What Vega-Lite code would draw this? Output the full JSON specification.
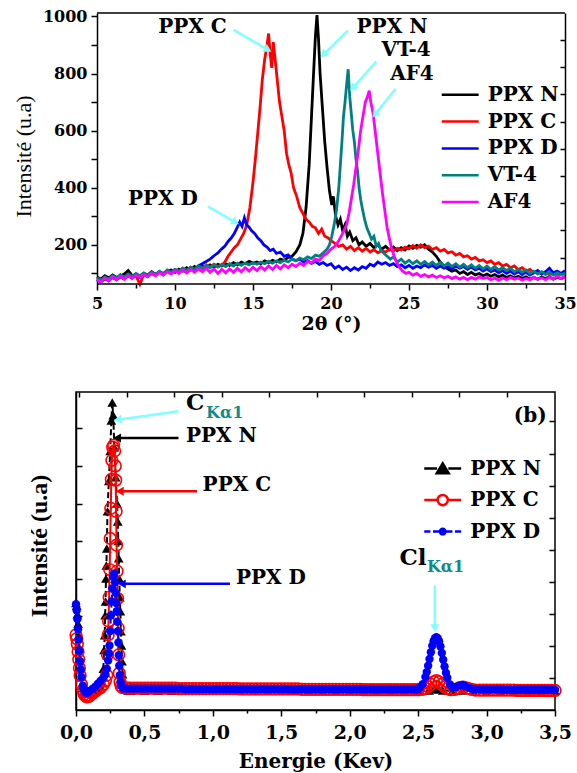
{
"$schema": "https://vega.github.io/schema/vega-lite/v6.json",
"padding": {"left": 12, "top": 8, "right": 0, "bottom": 0},
"background": "white",
"config": {
  "view": {"stroke": "#000000", "strokeWidth": 1.5},
  "axis": {"grid": false, "domainColor": "#000000", "domainWidth": 1.5, "tickColor": "#000000", "tickWidth": 1.5, "labelColor": "#000000", "titleColor": "#000000", "labelFlush": false, "labelOverlap": false},
  "legend": {"padding": 0}
},
"datasets": {
"xrd": [
{"s":"PPX N","x":5,"y":88},{"s":"PPX N","x":5.25,"y":80},{"s":"PPX N","x":5.5,"y":92},{"s":"PPX N","x":5.75,"y":84},{"s":"PPX N","x":6,"y":95},{"s":"PPX N","x":6.25,"y":86},{"s":"PPX N","x":6.5,"y":90},{"s":"PPX N","x":6.75,"y":98},{"s":"PPX N","x":7,"y":110},{"s":"PPX N","x":7.25,"y":92},{"s":"PPX N","x":7.5,"y":96},{"s":"PPX N","x":7.75,"y":88},{"s":"PPX N","x":8,"y":100},{"s":"PPX N","x":8.25,"y":94},{"s":"PPX N","x":8.5,"y":106},{"s":"PPX N","x":8.75,"y":97},{"s":"PPX N","x":9,"y":104},{"s":"PPX N","x":9.25,"y":96},{"s":"PPX N","x":9.5,"y":108},{"s":"PPX N","x":9.75,"y":112},{"s":"PPX N","x":10,"y":104},{"s":"PPX N","x":10.25,"y":115},{"s":"PPX N","x":10.5,"y":108},{"s":"PPX N","x":10.75,"y":120},{"s":"PPX N","x":11,"y":112},{"s":"PPX N","x":11.25,"y":124},{"s":"PPX N","x":11.5,"y":116},{"s":"PPX N","x":11.75,"y":126},{"s":"PPX N","x":12,"y":120},{"s":"PPX N","x":12.25,"y":130},{"s":"PPX N","x":12.5,"y":122},{"s":"PPX N","x":12.75,"y":132},{"s":"PPX N","x":13,"y":126},{"s":"PPX N","x":13.25,"y":134},{"s":"PPX N","x":13.5,"y":128},{"s":"PPX N","x":13.75,"y":138},{"s":"PPX N","x":14,"y":130},{"s":"PPX N","x":14.25,"y":140},{"s":"PPX N","x":14.5,"y":134},{"s":"PPX N","x":14.75,"y":142},{"s":"PPX N","x":15,"y":136},{"s":"PPX N","x":15.25,"y":140},{"s":"PPX N","x":15.5,"y":134},{"s":"PPX N","x":15.75,"y":144},{"s":"PPX N","x":16,"y":138},{"s":"PPX N","x":16.25,"y":146},{"s":"PPX N","x":16.5,"y":140},{"s":"PPX N","x":16.75,"y":150},{"s":"PPX N","x":17,"y":146},{"s":"PPX N","x":17.25,"y":156},{"s":"PPX N","x":17.5,"y":160},{"s":"PPX N","x":17.75,"y":175},{"s":"PPX N","x":18,"y":200},{"s":"PPX N","x":18.2,"y":240},{"s":"PPX N","x":18.4,"y":330},{"s":"PPX N","x":18.6,"y":480},{"s":"PPX N","x":18.75,"y":650},{"s":"PPX N","x":18.9,"y":820},{"s":"PPX N","x":19,"y":930},{"s":"PPX N","x":19.1,"y":1005},{"s":"PPX N","x":19.2,"y":920},{"s":"PPX N","x":19.3,"y":800},{"s":"PPX N","x":19.45,"y":680},{"s":"PPX N","x":19.6,"y":560},{"s":"PPX N","x":19.75,"y":470},{"s":"PPX N","x":19.9,"y":390},{"s":"PPX N","x":20.05,"y":340},{"s":"PPX N","x":20.15,"y":370},{"s":"PPX N","x":20.3,"y":300},{"s":"PPX N","x":20.45,"y":270},{"s":"PPX N","x":20.6,"y":290},{"s":"PPX N","x":20.75,"y":250},{"s":"PPX N","x":20.9,"y":270},{"s":"PPX N","x":21.05,"y":230},{"s":"PPX N","x":21.2,"y":245},{"s":"PPX N","x":21.4,"y":215},{"s":"PPX N","x":21.6,"y":225},{"s":"PPX N","x":21.8,"y":200},{"s":"PPX N","x":22,"y":210},{"s":"PPX N","x":22.25,"y":195},{"s":"PPX N","x":22.5,"y":205},{"s":"PPX N","x":22.75,"y":190},{"s":"PPX N","x":23,"y":200},{"s":"PPX N","x":23.25,"y":185},{"s":"PPX N","x":23.5,"y":195},{"s":"PPX N","x":23.75,"y":182},{"s":"PPX N","x":24,"y":192},{"s":"PPX N","x":24.25,"y":180},{"s":"PPX N","x":24.5,"y":190},{"s":"PPX N","x":24.75,"y":182},{"s":"PPX N","x":25,"y":196},{"s":"PPX N","x":25.25,"y":188},{"s":"PPX N","x":25.5,"y":198},{"s":"PPX N","x":25.75,"y":192},{"s":"PPX N","x":26,"y":200},{"s":"PPX N","x":26.25,"y":185},{"s":"PPX N","x":26.5,"y":175},{"s":"PPX N","x":26.75,"y":160},{"s":"PPX N","x":27,"y":140},{"s":"PPX N","x":27.25,"y":125},{"s":"PPX N","x":27.5,"y":115},{"s":"PPX N","x":27.75,"y":108},{"s":"PPX N","x":28,"y":112},{"s":"PPX N","x":28.25,"y":100},{"s":"PPX N","x":28.5,"y":106},{"s":"PPX N","x":28.75,"y":96},{"s":"PPX N","x":29,"y":104},{"s":"PPX N","x":29.25,"y":95},{"s":"PPX N","x":29.5,"y":100},{"s":"PPX N","x":29.75,"y":92},{"s":"PPX N","x":30,"y":98},{"s":"PPX N","x":30.25,"y":90},{"s":"PPX N","x":30.5,"y":96},{"s":"PPX N","x":30.75,"y":88},{"s":"PPX N","x":31,"y":94},{"s":"PPX N","x":31.25,"y":86},{"s":"PPX N","x":31.5,"y":92},{"s":"PPX N","x":31.75,"y":84},{"s":"PPX N","x":32,"y":90},{"s":"PPX N","x":32.25,"y":83},{"s":"PPX N","x":32.5,"y":88},{"s":"PPX N","x":32.75,"y":80},{"s":"PPX N","x":33,"y":86},{"s":"PPX N","x":33.25,"y":80},{"s":"PPX N","x":33.5,"y":87},{"s":"PPX N","x":33.75,"y":82},{"s":"PPX N","x":34,"y":88},{"s":"PPX N","x":34.25,"y":80},{"s":"PPX N","x":34.5,"y":86},{"s":"PPX N","x":34.75,"y":82},{"s":"PPX N","x":35,"y":88},
{"s":"PPX C","x":5,"y":80},{"s":"PPX C","x":5.25,"y":72},{"s":"PPX C","x":5.5,"y":84},{"s":"PPX C","x":5.75,"y":76},{"s":"PPX C","x":6,"y":88},{"s":"PPX C","x":6.25,"y":80},{"s":"PPX C","x":6.5,"y":90},{"s":"PPX C","x":6.75,"y":84},{"s":"PPX C","x":7,"y":95},{"s":"PPX C","x":7.25,"y":86},{"s":"PPX C","x":7.5,"y":92},{"s":"PPX C","x":7.75,"y":62},{"s":"PPX C","x":8,"y":96},{"s":"PPX C","x":8.25,"y":90},{"s":"PPX C","x":8.5,"y":100},{"s":"PPX C","x":8.75,"y":94},{"s":"PPX C","x":9,"y":104},{"s":"PPX C","x":9.25,"y":98},{"s":"PPX C","x":9.5,"y":108},{"s":"PPX C","x":9.75,"y":102},{"s":"PPX C","x":10,"y":112},{"s":"PPX C","x":10.25,"y":106},{"s":"PPX C","x":10.5,"y":118},{"s":"PPX C","x":10.75,"y":110},{"s":"PPX C","x":11,"y":122},{"s":"PPX C","x":11.25,"y":114},{"s":"PPX C","x":11.5,"y":126},{"s":"PPX C","x":11.75,"y":118},{"s":"PPX C","x":12,"y":130},{"s":"PPX C","x":12.25,"y":122},{"s":"PPX C","x":12.5,"y":132},{"s":"PPX C","x":12.75,"y":124},{"s":"PPX C","x":13,"y":128},{"s":"PPX C","x":13.2,"y":140},{"s":"PPX C","x":13.4,"y":160},{"s":"PPX C","x":13.6,"y":175},{"s":"PPX C","x":13.8,"y":190},{"s":"PPX C","x":14,"y":200},{"s":"PPX C","x":14.2,"y":220},{"s":"PPX C","x":14.4,"y":240},{"s":"PPX C","x":14.6,"y":270},{"s":"PPX C","x":14.8,"y":330},{"s":"PPX C","x":15,"y":420},{"s":"PPX C","x":15.15,"y":500},{"s":"PPX C","x":15.3,"y":590},{"s":"PPX C","x":15.45,"y":680},{"s":"PPX C","x":15.6,"y":780},{"s":"PPX C","x":15.75,"y":850},{"s":"PPX C","x":15.9,"y":900},{"s":"PPX C","x":16,"y":940},{"s":"PPX C","x":16.1,"y":870},{"s":"PPX C","x":16.2,"y":820},{"s":"PPX C","x":16.3,"y":910},{"s":"PPX C","x":16.4,"y":860},{"s":"PPX C","x":16.55,"y":780},{"s":"PPX C","x":16.7,"y":700},{"s":"PPX C","x":16.85,"y":650},{"s":"PPX C","x":17,"y":600},{"s":"PPX C","x":17.15,"y":520},{"s":"PPX C","x":17.3,"y":480},{"s":"PPX C","x":17.45,"y":450},{"s":"PPX C","x":17.6,"y":400},{"s":"PPX C","x":17.8,"y":370},{"s":"PPX C","x":18,"y":330},{"s":"PPX C","x":18.2,"y":310},{"s":"PPX C","x":18.4,"y":290},{"s":"PPX C","x":18.6,"y":280},{"s":"PPX C","x":18.8,"y":265},{"s":"PPX C","x":19,"y":260},{"s":"PPX C","x":19.2,"y":240},{"s":"PPX C","x":19.4,"y":255},{"s":"PPX C","x":19.6,"y":230},{"s":"PPX C","x":19.8,"y":225},{"s":"PPX C","x":20,"y":215},{"s":"PPX C","x":20.25,"y":205},{"s":"PPX C","x":20.5,"y":195},{"s":"PPX C","x":20.75,"y":200},{"s":"PPX C","x":21,"y":185},{"s":"PPX C","x":21.25,"y":195},{"s":"PPX C","x":21.5,"y":180},{"s":"PPX C","x":21.75,"y":190},{"s":"PPX C","x":22,"y":178},{"s":"PPX C","x":22.25,"y":188},{"s":"PPX C","x":22.5,"y":175},{"s":"PPX C","x":22.75,"y":183},{"s":"PPX C","x":23,"y":172},{"s":"PPX C","x":23.25,"y":180},{"s":"PPX C","x":23.5,"y":175},{"s":"PPX C","x":23.75,"y":185},{"s":"PPX C","x":24,"y":178},{"s":"PPX C","x":24.25,"y":188},{"s":"PPX C","x":24.5,"y":182},{"s":"PPX C","x":24.75,"y":192},{"s":"PPX C","x":25,"y":186},{"s":"PPX C","x":25.25,"y":198},{"s":"PPX C","x":25.5,"y":188},{"s":"PPX C","x":25.75,"y":200},{"s":"PPX C","x":26,"y":190},{"s":"PPX C","x":26.25,"y":196},{"s":"PPX C","x":26.5,"y":184},{"s":"PPX C","x":26.75,"y":190},{"s":"PPX C","x":27,"y":178},{"s":"PPX C","x":27.25,"y":184},{"s":"PPX C","x":27.5,"y":172},{"s":"PPX C","x":27.75,"y":176},{"s":"PPX C","x":28,"y":164},{"s":"PPX C","x":28.25,"y":170},{"s":"PPX C","x":28.5,"y":158},{"s":"PPX C","x":28.75,"y":162},{"s":"PPX C","x":29,"y":150},{"s":"PPX C","x":29.25,"y":156},{"s":"PPX C","x":29.5,"y":144},{"s":"PPX C","x":29.75,"y":148},{"s":"PPX C","x":30,"y":138},{"s":"PPX C","x":30.25,"y":144},{"s":"PPX C","x":30.5,"y":132},{"s":"PPX C","x":30.75,"y":138},{"s":"PPX C","x":31,"y":126},{"s":"PPX C","x":31.25,"y":132},{"s":"PPX C","x":31.5,"y":120},{"s":"PPX C","x":31.75,"y":126},{"s":"PPX C","x":32,"y":114},{"s":"PPX C","x":32.25,"y":120},{"s":"PPX C","x":32.5,"y":108},{"s":"PPX C","x":32.75,"y":114},{"s":"PPX C","x":33,"y":102},{"s":"PPX C","x":33.25,"y":108},{"s":"PPX C","x":33.5,"y":98},{"s":"PPX C","x":33.75,"y":104},{"s":"PPX C","x":34,"y":96},{"s":"PPX C","x":34.25,"y":102},{"s":"PPX C","x":34.5,"y":94},{"s":"PPX C","x":34.75,"y":100},{"s":"PPX C","x":35,"y":96},
{"s":"PPX D","x":5,"y":78},{"s":"PPX D","x":5.25,"y":70},{"s":"PPX D","x":5.5,"y":82},{"s":"PPX D","x":5.75,"y":74},{"s":"PPX D","x":6,"y":86},{"s":"PPX D","x":6.25,"y":78},{"s":"PPX D","x":6.5,"y":88},{"s":"PPX D","x":6.75,"y":80},{"s":"PPX D","x":7,"y":92},{"s":"PPX D","x":7.25,"y":84},{"s":"PPX D","x":7.5,"y":94},{"s":"PPX D","x":7.75,"y":86},{"s":"PPX D","x":8,"y":98},{"s":"PPX D","x":8.25,"y":90},{"s":"PPX D","x":8.5,"y":102},{"s":"PPX D","x":8.75,"y":94},{"s":"PPX D","x":9,"y":106},{"s":"PPX D","x":9.25,"y":98},{"s":"PPX D","x":9.5,"y":110},{"s":"PPX D","x":9.75,"y":102},{"s":"PPX D","x":10,"y":114},{"s":"PPX D","x":10.25,"y":106},{"s":"PPX D","x":10.5,"y":116},{"s":"PPX D","x":10.75,"y":110},{"s":"PPX D","x":11,"y":120},{"s":"PPX D","x":11.25,"y":114},{"s":"PPX D","x":11.5,"y":126},{"s":"PPX D","x":11.75,"y":134},{"s":"PPX D","x":12,"y":142},{"s":"PPX D","x":12.25,"y":150},{"s":"PPX D","x":12.5,"y":162},{"s":"PPX D","x":12.75,"y":172},{"s":"PPX D","x":13,"y":186},{"s":"PPX D","x":13.2,"y":196},{"s":"PPX D","x":13.4,"y":212},{"s":"PPX D","x":13.6,"y":224},{"s":"PPX D","x":13.8,"y":240},{"s":"PPX D","x":14,"y":262},{"s":"PPX D","x":14.15,"y":280},{"s":"PPX D","x":14.3,"y":265},{"s":"PPX D","x":14.45,"y":295},{"s":"PPX D","x":14.6,"y":270},{"s":"PPX D","x":14.75,"y":262},{"s":"PPX D","x":14.9,"y":250},{"s":"PPX D","x":15.1,"y":240},{"s":"PPX D","x":15.3,"y":225},{"s":"PPX D","x":15.5,"y":215},{"s":"PPX D","x":15.7,"y":200},{"s":"PPX D","x":15.9,"y":192},{"s":"PPX D","x":16.1,"y":180},{"s":"PPX D","x":16.3,"y":185},{"s":"PPX D","x":16.5,"y":170},{"s":"PPX D","x":16.75,"y":175},{"s":"PPX D","x":17,"y":160},{"s":"PPX D","x":17.25,"y":165},{"s":"PPX D","x":17.5,"y":150},{"s":"PPX D","x":17.75,"y":145},{"s":"PPX D","x":18,"y":150},{"s":"PPX D","x":18.25,"y":140},{"s":"PPX D","x":18.5,"y":145},{"s":"PPX D","x":18.75,"y":135},{"s":"PPX D","x":19,"y":142},{"s":"PPX D","x":19.25,"y":132},{"s":"PPX D","x":19.5,"y":138},{"s":"PPX D","x":19.75,"y":128},{"s":"PPX D","x":20,"y":134},{"s":"PPX D","x":20.25,"y":118},{"s":"PPX D","x":20.5,"y":126},{"s":"PPX D","x":20.75,"y":114},{"s":"PPX D","x":21,"y":122},{"s":"PPX D","x":21.25,"y":110},{"s":"PPX D","x":21.5,"y":120},{"s":"PPX D","x":21.75,"y":112},{"s":"PPX D","x":22,"y":124},{"s":"PPX D","x":22.25,"y":118},{"s":"PPX D","x":22.5,"y":132},{"s":"PPX D","x":22.75,"y":126},{"s":"PPX D","x":23,"y":140},{"s":"PPX D","x":23.25,"y":132},{"s":"PPX D","x":23.5,"y":138},{"s":"PPX D","x":23.75,"y":128},{"s":"PPX D","x":24,"y":134},{"s":"PPX D","x":24.25,"y":124},{"s":"PPX D","x":24.5,"y":130},{"s":"PPX D","x":24.75,"y":120},{"s":"PPX D","x":25,"y":128},{"s":"PPX D","x":25.25,"y":118},{"s":"PPX D","x":25.5,"y":126},{"s":"PPX D","x":25.75,"y":120},{"s":"PPX D","x":26,"y":130},{"s":"PPX D","x":26.25,"y":122},{"s":"PPX D","x":26.5,"y":128},{"s":"PPX D","x":26.75,"y":118},{"s":"PPX D","x":27,"y":126},{"s":"PPX D","x":27.25,"y":118},{"s":"PPX D","x":27.5,"y":124},{"s":"PPX D","x":27.75,"y":116},{"s":"PPX D","x":28,"y":126},{"s":"PPX D","x":28.25,"y":118},{"s":"PPX D","x":28.5,"y":124},{"s":"PPX D","x":28.75,"y":114},{"s":"PPX D","x":29,"y":122},{"s":"PPX D","x":29.25,"y":112},{"s":"PPX D","x":29.5,"y":118},{"s":"PPX D","x":29.75,"y":108},{"s":"PPX D","x":30,"y":116},{"s":"PPX D","x":30.25,"y":106},{"s":"PPX D","x":30.5,"y":112},{"s":"PPX D","x":30.75,"y":102},{"s":"PPX D","x":31,"y":110},{"s":"PPX D","x":31.25,"y":100},{"s":"PPX D","x":31.5,"y":108},{"s":"PPX D","x":31.75,"y":98},{"s":"PPX D","x":32,"y":106},{"s":"PPX D","x":32.25,"y":96},{"s":"PPX D","x":32.5,"y":104},{"s":"PPX D","x":32.75,"y":94},{"s":"PPX D","x":33,"y":102},{"s":"PPX D","x":33.25,"y":110},{"s":"PPX D","x":33.5,"y":98},{"s":"PPX D","x":33.75,"y":106},{"s":"PPX D","x":34,"y":118},{"s":"PPX D","x":34.25,"y":102},{"s":"PPX D","x":34.5,"y":108},{"s":"PPX D","x":34.75,"y":100},{"s":"PPX D","x":35,"y":110},
{"s":"VT-4","x":5,"y":85},{"s":"VT-4","x":5.25,"y":76},{"s":"VT-4","x":5.5,"y":88},{"s":"VT-4","x":5.75,"y":80},{"s":"VT-4","x":6,"y":92},{"s":"VT-4","x":6.25,"y":84},{"s":"VT-4","x":6.5,"y":96},{"s":"VT-4","x":6.75,"y":86},{"s":"VT-4","x":7,"y":98},{"s":"VT-4","x":7.25,"y":90},{"s":"VT-4","x":7.5,"y":100},{"s":"VT-4","x":7.75,"y":92},{"s":"VT-4","x":8,"y":102},{"s":"VT-4","x":8.25,"y":94},{"s":"VT-4","x":8.5,"y":104},{"s":"VT-4","x":8.75,"y":96},{"s":"VT-4","x":9,"y":108},{"s":"VT-4","x":9.25,"y":100},{"s":"VT-4","x":9.5,"y":112},{"s":"VT-4","x":9.75,"y":104},{"s":"VT-4","x":10,"y":114},{"s":"VT-4","x":10.25,"y":108},{"s":"VT-4","x":10.5,"y":118},{"s":"VT-4","x":10.75,"y":110},{"s":"VT-4","x":11,"y":122},{"s":"VT-4","x":11.25,"y":114},{"s":"VT-4","x":11.5,"y":126},{"s":"VT-4","x":11.75,"y":118},{"s":"VT-4","x":12,"y":128},{"s":"VT-4","x":12.25,"y":120},{"s":"VT-4","x":12.5,"y":130},{"s":"VT-4","x":12.75,"y":122},{"s":"VT-4","x":13,"y":132},{"s":"VT-4","x":13.25,"y":124},{"s":"VT-4","x":13.5,"y":134},{"s":"VT-4","x":13.75,"y":126},{"s":"VT-4","x":14,"y":136},{"s":"VT-4","x":14.25,"y":128},{"s":"VT-4","x":14.5,"y":136},{"s":"VT-4","x":14.75,"y":130},{"s":"VT-4","x":15,"y":138},{"s":"VT-4","x":15.25,"y":132},{"s":"VT-4","x":15.5,"y":140},{"s":"VT-4","x":15.75,"y":134},{"s":"VT-4","x":16,"y":142},{"s":"VT-4","x":16.25,"y":136},{"s":"VT-4","x":16.5,"y":144},{"s":"VT-4","x":16.75,"y":138},{"s":"VT-4","x":17,"y":146},{"s":"VT-4","x":17.25,"y":140},{"s":"VT-4","x":17.5,"y":150},{"s":"VT-4","x":17.75,"y":144},{"s":"VT-4","x":18,"y":154},{"s":"VT-4","x":18.25,"y":148},{"s":"VT-4","x":18.5,"y":158},{"s":"VT-4","x":18.75,"y":152},{"s":"VT-4","x":19,"y":164},{"s":"VT-4","x":19.25,"y":160},{"s":"VT-4","x":19.5,"y":172},{"s":"VT-4","x":19.75,"y":185},{"s":"VT-4","x":19.9,"y":200},{"s":"VT-4","x":20.05,"y":230},{"s":"VT-4","x":20.2,"y":270},{"s":"VT-4","x":20.35,"y":320},{"s":"VT-4","x":20.5,"y":400},{"s":"VT-4","x":20.6,"y":480},{"s":"VT-4","x":20.7,"y":560},{"s":"VT-4","x":20.8,"y":650},{"s":"VT-4","x":20.9,"y":700},{"s":"VT-4","x":21,"y":760},{"s":"VT-4","x":21.1,"y":815},{"s":"VT-4","x":21.2,"y":720},{"s":"VT-4","x":21.3,"y":660},{"s":"VT-4","x":21.4,"y":600},{"s":"VT-4","x":21.5,"y":560},{"s":"VT-4","x":21.6,"y":500},{"s":"VT-4","x":21.7,"y":460},{"s":"VT-4","x":21.8,"y":400},{"s":"VT-4","x":21.9,"y":360},{"s":"VT-4","x":22,"y":330},{"s":"VT-4","x":22.15,"y":290},{"s":"VT-4","x":22.3,"y":260},{"s":"VT-4","x":22.45,"y":240},{"s":"VT-4","x":22.6,"y":220},{"s":"VT-4","x":22.75,"y":230},{"s":"VT-4","x":22.9,"y":195},{"s":"VT-4","x":23.05,"y":205},{"s":"VT-4","x":23.2,"y":180},{"s":"VT-4","x":23.4,"y":170},{"s":"VT-4","x":23.6,"y":160},{"s":"VT-4","x":23.8,"y":150},{"s":"VT-4","x":24,"y":158},{"s":"VT-4","x":24.25,"y":140},{"s":"VT-4","x":24.5,"y":150},{"s":"VT-4","x":24.75,"y":136},{"s":"VT-4","x":25,"y":146},{"s":"VT-4","x":25.25,"y":134},{"s":"VT-4","x":25.5,"y":144},{"s":"VT-4","x":25.75,"y":132},{"s":"VT-4","x":26,"y":142},{"s":"VT-4","x":26.25,"y":130},{"s":"VT-4","x":26.5,"y":140},{"s":"VT-4","x":26.75,"y":128},{"s":"VT-4","x":27,"y":138},{"s":"VT-4","x":27.25,"y":126},{"s":"VT-4","x":27.5,"y":136},{"s":"VT-4","x":27.75,"y":124},{"s":"VT-4","x":28,"y":134},{"s":"VT-4","x":28.25,"y":122},{"s":"VT-4","x":28.5,"y":132},{"s":"VT-4","x":28.75,"y":120},{"s":"VT-4","x":29,"y":130},{"s":"VT-4","x":29.25,"y":118},{"s":"VT-4","x":29.5,"y":128},{"s":"VT-4","x":29.75,"y":116},{"s":"VT-4","x":30,"y":126},{"s":"VT-4","x":30.25,"y":114},{"s":"VT-4","x":30.5,"y":124},{"s":"VT-4","x":30.75,"y":112},{"s":"VT-4","x":31,"y":120},{"s":"VT-4","x":31.25,"y":110},{"s":"VT-4","x":31.5,"y":118},{"s":"VT-4","x":31.75,"y":106},{"s":"VT-4","x":32,"y":114},{"s":"VT-4","x":32.25,"y":104},{"s":"VT-4","x":32.5,"y":112},{"s":"VT-4","x":32.75,"y":100},{"s":"VT-4","x":33,"y":108},{"s":"VT-4","x":33.25,"y":98},{"s":"VT-4","x":33.5,"y":106},{"s":"VT-4","x":33.75,"y":96},{"s":"VT-4","x":34,"y":104},{"s":"VT-4","x":34.25,"y":94},{"s":"VT-4","x":34.5,"y":102},{"s":"VT-4","x":34.75,"y":96},{"s":"VT-4","x":35,"y":100},
{"s":"AF4","x":5,"y":78},{"s":"AF4","x":5.25,"y":70},{"s":"AF4","x":5.5,"y":84},{"s":"AF4","x":5.75,"y":74},{"s":"AF4","x":6,"y":88},{"s":"AF4","x":6.25,"y":78},{"s":"AF4","x":6.5,"y":90},{"s":"AF4","x":6.75,"y":80},{"s":"AF4","x":7,"y":92},{"s":"AF4","x":7.25,"y":82},{"s":"AF4","x":7.5,"y":94},{"s":"AF4","x":7.75,"y":86},{"s":"AF4","x":8,"y":96},{"s":"AF4","x":8.25,"y":88},{"s":"AF4","x":8.5,"y":100},{"s":"AF4","x":8.75,"y":92},{"s":"AF4","x":9,"y":104},{"s":"AF4","x":9.25,"y":94},{"s":"AF4","x":9.5,"y":106},{"s":"AF4","x":9.75,"y":98},{"s":"AF4","x":10,"y":110},{"s":"AF4","x":10.25,"y":100},{"s":"AF4","x":10.5,"y":112},{"s":"AF4","x":10.75,"y":102},{"s":"AF4","x":11,"y":114},{"s":"AF4","x":11.25,"y":104},{"s":"AF4","x":11.5,"y":116},{"s":"AF4","x":11.75,"y":106},{"s":"AF4","x":12,"y":118},{"s":"AF4","x":12.25,"y":104},{"s":"AF4","x":12.5,"y":116},{"s":"AF4","x":12.75,"y":100},{"s":"AF4","x":13,"y":114},{"s":"AF4","x":13.25,"y":102},{"s":"AF4","x":13.5,"y":116},{"s":"AF4","x":13.75,"y":104},{"s":"AF4","x":14,"y":118},{"s":"AF4","x":14.25,"y":106},{"s":"AF4","x":14.5,"y":120},{"s":"AF4","x":14.75,"y":108},{"s":"AF4","x":15,"y":122},{"s":"AF4","x":15.25,"y":110},{"s":"AF4","x":15.5,"y":124},{"s":"AF4","x":15.75,"y":112},{"s":"AF4","x":16,"y":126},{"s":"AF4","x":16.25,"y":114},{"s":"AF4","x":16.5,"y":128},{"s":"AF4","x":16.75,"y":116},{"s":"AF4","x":17,"y":130},{"s":"AF4","x":17.25,"y":120},{"s":"AF4","x":17.5,"y":132},{"s":"AF4","x":17.75,"y":124},{"s":"AF4","x":18,"y":136},{"s":"AF4","x":18.25,"y":128},{"s":"AF4","x":18.5,"y":142},{"s":"AF4","x":18.75,"y":136},{"s":"AF4","x":19,"y":150},{"s":"AF4","x":19.25,"y":146},{"s":"AF4","x":19.5,"y":162},{"s":"AF4","x":19.75,"y":170},{"s":"AF4","x":20,"y":185},{"s":"AF4","x":20.25,"y":195},{"s":"AF4","x":20.5,"y":215},{"s":"AF4","x":20.75,"y":240},{"s":"AF4","x":21,"y":270},{"s":"AF4","x":21.15,"y":310},{"s":"AF4","x":21.3,"y":360},{"s":"AF4","x":21.45,"y":410},{"s":"AF4","x":21.6,"y":470},{"s":"AF4","x":21.75,"y":530},{"s":"AF4","x":21.9,"y":600},{"s":"AF4","x":22.05,"y":650},{"s":"AF4","x":22.2,"y":700},{"s":"AF4","x":22.35,"y":720},{"s":"AF4","x":22.45,"y":740},{"s":"AF4","x":22.55,"y":700},{"s":"AF4","x":22.7,"y":660},{"s":"AF4","x":22.85,"y":590},{"s":"AF4","x":23,"y":520},{"s":"AF4","x":23.15,"y":450},{"s":"AF4","x":23.3,"y":380},{"s":"AF4","x":23.45,"y":320},{"s":"AF4","x":23.6,"y":260},{"s":"AF4","x":23.75,"y":220},{"s":"AF4","x":23.9,"y":185},{"s":"AF4","x":24.05,"y":160},{"s":"AF4","x":24.2,"y":140},{"s":"AF4","x":24.4,"y":120},{"s":"AF4","x":24.6,"y":108},{"s":"AF4","x":24.8,"y":100},{"s":"AF4","x":25,"y":104},{"s":"AF4","x":25.25,"y":94},{"s":"AF4","x":25.5,"y":100},{"s":"AF4","x":25.75,"y":90},{"s":"AF4","x":26,"y":96},{"s":"AF4","x":26.25,"y":88},{"s":"AF4","x":26.5,"y":94},{"s":"AF4","x":26.75,"y":86},{"s":"AF4","x":27,"y":92},{"s":"AF4","x":27.25,"y":85},{"s":"AF4","x":27.5,"y":90},{"s":"AF4","x":27.75,"y":82},{"s":"AF4","x":28,"y":88},{"s":"AF4","x":28.25,"y":80},{"s":"AF4","x":28.5,"y":86},{"s":"AF4","x":28.75,"y":78},{"s":"AF4","x":29,"y":86},{"s":"AF4","x":29.25,"y":80},{"s":"AF4","x":29.5,"y":88},{"s":"AF4","x":29.75,"y":82},{"s":"AF4","x":30,"y":86},{"s":"AF4","x":30.25,"y":78},{"s":"AF4","x":30.5,"y":84},{"s":"AF4","x":30.75,"y":76},{"s":"AF4","x":31,"y":84},{"s":"AF4","x":31.25,"y":78},{"s":"AF4","x":31.5,"y":86},{"s":"AF4","x":31.75,"y":80},{"s":"AF4","x":32,"y":84},{"s":"AF4","x":32.25,"y":76},{"s":"AF4","x":32.5,"y":82},{"s":"AF4","x":32.75,"y":78},{"s":"AF4","x":33,"y":86},{"s":"AF4","x":33.25,"y":80},{"s":"AF4","x":33.5,"y":84},{"s":"AF4","x":33.75,"y":78},{"s":"AF4","x":34,"y":86},{"s":"AF4","x":34.25,"y":80},{"s":"AF4","x":34.5,"y":90},{"s":"AF4","x":34.75,"y":82},{"s":"AF4","x":35,"y":88}
],
"xrdLab": [
{"t":"PPX C","x":11.12,"y":962},{"t":"PPX N","x":23.91,"y":962},{"t":"VT-4","x":24.81,"y":881},{"t":"AF4","x":25.19,"y":797},{"t":"PPX D","x":9.23,"y":359}
],
"xrdArr": [
{"x":13.77,"y":953,"x2":15.96,"y2":883,"a":120},{"x":21.09,"y":951,"x2":19.51,"y2":866,"a":225},{"x":22.9,"y":842,"x2":21.39,"y2":749,"a":221},{"x":24.15,"y":747,"x2":22.81,"y2":657,"a":219},{"x":12.12,"y":334,"x2":13.88,"y2":279,"a":120}
],
"edx": [
{"s":"PPX N","x":0,"y":235},{"s":"PPX N","x":0.005,"y":228},{"s":"PPX N","x":0.01,"y":205},{"s":"PPX N","x":0.015,"y":180},{"s":"PPX N","x":0.02,"y":150},{"s":"PPX N","x":0.025,"y":115},{"s":"PPX N","x":0.03,"y":80},{"s":"PPX N","x":0.04,"y":40},{"s":"PPX N","x":0.05,"y":15},{"s":"PPX N","x":0.06,"y":2},{"s":"PPX N","x":0.07,"y":-4},{"s":"PPX N","x":0.08,"y":-6},{"s":"PPX N","x":0.1,"y":-6},{"s":"PPX N","x":0.12,"y":-4},{"s":"PPX N","x":0.14,"y":0},{"s":"PPX N","x":0.16,"y":5},{"s":"PPX N","x":0.18,"y":12},{"s":"PPX N","x":0.19,"y":22},{"s":"PPX N","x":0.2,"y":60},{"s":"PPX N","x":0.205,"y":110},{"s":"PPX N","x":0.21,"y":149},{"s":"PPX N","x":0.213,"y":202},{"s":"PPX N","x":0.216,"y":239},{"s":"PPX N","x":0.219,"y":300},{"s":"PPX N","x":0.222,"y":335},{"s":"PPX N","x":0.225,"y":380},{"s":"PPX N","x":0.23,"y":479},{"s":"PPX N","x":0.24,"y":560},{"s":"PPX N","x":0.25,"y":640},{"s":"PPX N","x":0.258,"y":721},{"s":"PPX N","x":0.265,"y":769},{"s":"PPX N","x":0.272,"y":735},{"s":"PPX N","x":0.28,"y":650},{"s":"PPX N","x":0.29,"y":570},{"s":"PPX N","x":0.3,"y":500},{"s":"PPX N","x":0.305,"y":452},{"s":"PPX N","x":0.309,"y":400},{"s":"PPX N","x":0.312,"y":354},{"s":"PPX N","x":0.316,"y":300},{"s":"PPX N","x":0.32,"y":250},{"s":"PPX N","x":0.324,"y":213},{"s":"PPX N","x":0.328,"y":160},{"s":"PPX N","x":0.332,"y":122},{"s":"PPX N","x":0.336,"y":80},{"s":"PPX N","x":0.34,"y":45},{"s":"PPX N","x":0.345,"y":22},{"s":"PPX N","x":0.35,"y":10},{"s":"PPX N","x":0.36,"y":5},{"s":"PPX N","x":0.38,"y":2},{"s":"PPX N","x":0.4,"y":1},{"s":"PPX N","x":0.5,"y":1},{"s":"PPX N","x":0.6,"y":1},{"s":"PPX N","x":0.7,"y":1},{"s":"PPX N","x":0.8,"y":1},{"s":"PPX N","x":0.9,"y":1},{"s":"PPX N","x":1,"y":1},{"s":"PPX N","x":1.1,"y":1},{"s":"PPX N","x":1.2,"y":1},{"s":"PPX N","x":1.3,"y":1},{"s":"PPX N","x":1.4,"y":1},{"s":"PPX N","x":1.5,"y":1},{"s":"PPX N","x":1.6,"y":1},{"s":"PPX N","x":1.7,"y":1},{"s":"PPX N","x":1.8,"y":1},{"s":"PPX N","x":1.9,"y":1},{"s":"PPX N","x":2,"y":1},{"s":"PPX N","x":2.1,"y":1},{"s":"PPX N","x":2.2,"y":1},{"s":"PPX N","x":2.3,"y":1},{"s":"PPX N","x":2.4,"y":1},{"s":"PPX N","x":2.5,"y":1},{"s":"PPX N","x":2.58,"y":2},{"s":"PPX N","x":2.61,"y":5},{"s":"PPX N","x":2.63,"y":7},{"s":"PPX N","x":2.65,"y":5},{"s":"PPX N","x":2.68,"y":2},{"s":"PPX N","x":2.75,"y":1},{"s":"PPX N","x":2.82,"y":2},{"s":"PPX N","x":2.9,"y":1},{"s":"PPX N","x":3,"y":1},{"s":"PPX N","x":3.1,"y":1},{"s":"PPX N","x":3.2,"y":1},{"s":"PPX N","x":3.3,"y":1},{"s":"PPX N","x":3.4,"y":1},{"s":"PPX N","x":3.5,"y":1},
{"s":"PPX C","x":0,"y":150},{"s":"PPX C","x":0.005,"y":140},{"s":"PPX C","x":0.01,"y":125},{"s":"PPX C","x":0.015,"y":105},{"s":"PPX C","x":0.02,"y":85},{"s":"PPX C","x":0.025,"y":62},{"s":"PPX C","x":0.03,"y":42},{"s":"PPX C","x":0.04,"y":18},{"s":"PPX C","x":0.05,"y":2},{"s":"PPX C","x":0.06,"y":-8},{"s":"PPX C","x":0.07,"y":-13},{"s":"PPX C","x":0.08,"y":-15},{"s":"PPX C","x":0.09,"y":-14},{"s":"PPX C","x":0.1,"y":-12},{"s":"PPX C","x":0.12,"y":-6},{"s":"PPX C","x":0.14,"y":0},{"s":"PPX C","x":0.16,"y":5},{"s":"PPX C","x":0.18,"y":10},{"s":"PPX C","x":0.2,"y":18},{"s":"PPX C","x":0.215,"y":28},{"s":"PPX C","x":0.225,"y":43},{"s":"PPX C","x":0.23,"y":97},{"s":"PPX C","x":0.235,"y":150},{"s":"PPX C","x":0.238,"y":187},{"s":"PPX C","x":0.242,"y":250},{"s":"PPX C","x":0.246,"y":324},{"s":"PPX C","x":0.25,"y":407},{"s":"PPX C","x":0.254,"y":487},{"s":"PPX C","x":0.258,"y":564},{"s":"PPX C","x":0.262,"y":615},{"s":"PPX C","x":0.268,"y":650},{"s":"PPX C","x":0.275,"y":655},{"s":"PPX C","x":0.282,"y":640},{"s":"PPX C","x":0.287,"y":600},{"s":"PPX C","x":0.29,"y":562},{"s":"PPX C","x":0.293,"y":479},{"s":"PPX C","x":0.296,"y":389},{"s":"PPX C","x":0.3,"y":320},{"s":"PPX C","x":0.304,"y":247},{"s":"PPX C","x":0.308,"y":168},{"s":"PPX C","x":0.312,"y":97},{"s":"PPX C","x":0.316,"y":48},{"s":"PPX C","x":0.322,"y":24},{"s":"PPX C","x":0.33,"y":14},{"s":"PPX C","x":0.34,"y":10},{"s":"PPX C","x":0.36,"y":9},{"s":"PPX C","x":0.38,"y":8},{"s":"PPX C","x":0.4,"y":8},{"s":"PPX C","x":0.45,"y":8},{"s":"PPX C","x":0.5,"y":8},{"s":"PPX C","x":0.55,"y":8},{"s":"PPX C","x":0.6,"y":8},{"s":"PPX C","x":0.65,"y":8},{"s":"PPX C","x":0.7,"y":8},{"s":"PPX C","x":0.75,"y":7},{"s":"PPX C","x":0.8,"y":7},{"s":"PPX C","x":0.85,"y":7},{"s":"PPX C","x":0.9,"y":7},{"s":"PPX C","x":0.95,"y":7},{"s":"PPX C","x":1,"y":7},{"s":"PPX C","x":1.05,"y":7},{"s":"PPX C","x":1.1,"y":7},{"s":"PPX C","x":1.15,"y":7},{"s":"PPX C","x":1.2,"y":6},{"s":"PPX C","x":1.25,"y":6},{"s":"PPX C","x":1.3,"y":6},{"s":"PPX C","x":1.35,"y":6},{"s":"PPX C","x":1.4,"y":6},{"s":"PPX C","x":1.45,"y":6},{"s":"PPX C","x":1.5,"y":6},{"s":"PPX C","x":1.55,"y":6},{"s":"PPX C","x":1.6,"y":6},{"s":"PPX C","x":1.65,"y":5},{"s":"PPX C","x":1.7,"y":5},{"s":"PPX C","x":1.75,"y":5},{"s":"PPX C","x":1.8,"y":5},{"s":"PPX C","x":1.85,"y":5},{"s":"PPX C","x":1.9,"y":5},{"s":"PPX C","x":1.95,"y":5},{"s":"PPX C","x":2,"y":5},{"s":"PPX C","x":2.05,"y":5},{"s":"PPX C","x":2.1,"y":4},{"s":"PPX C","x":2.15,"y":4},{"s":"PPX C","x":2.2,"y":4},{"s":"PPX C","x":2.25,"y":4},{"s":"PPX C","x":2.3,"y":4},{"s":"PPX C","x":2.35,"y":4},{"s":"PPX C","x":2.4,"y":4},{"s":"PPX C","x":2.45,"y":4},{"s":"PPX C","x":2.5,"y":4},{"s":"PPX C","x":2.533,"y":5},{"s":"PPX C","x":2.553,"y":8},{"s":"PPX C","x":2.573,"y":12},{"s":"PPX C","x":2.593,"y":18},{"s":"PPX C","x":2.613,"y":25},{"s":"PPX C","x":2.633,"y":28},{"s":"PPX C","x":2.653,"y":25},{"s":"PPX C","x":2.673,"y":18},{"s":"PPX C","x":2.693,"y":12},{"s":"PPX C","x":2.713,"y":7},{"s":"PPX C","x":2.74,"y":4},{"s":"PPX C","x":2.77,"y":5},{"s":"PPX C","x":2.8,"y":9},{"s":"PPX C","x":2.83,"y":11},{"s":"PPX C","x":2.86,"y":8},{"s":"PPX C","x":2.89,"y":5},{"s":"PPX C","x":2.92,"y":3},{"s":"PPX C","x":2.95,"y":3},{"s":"PPX C","x":3,"y":3},{"s":"PPX C","x":3.05,"y":3},{"s":"PPX C","x":3.1,"y":3},{"s":"PPX C","x":3.15,"y":3},{"s":"PPX C","x":3.2,"y":3},{"s":"PPX C","x":3.25,"y":2},{"s":"PPX C","x":3.3,"y":2},{"s":"PPX C","x":3.35,"y":2},{"s":"PPX C","x":3.4,"y":2},{"s":"PPX C","x":3.45,"y":2},{"s":"PPX C","x":3.5,"y":2},
{"s":"PPX C","x":0.425,"y":8},{"s":"PPX C","x":0.475,"y":8},{"s":"PPX C","x":0.525,"y":8},{"s":"PPX C","x":0.575,"y":8},{"s":"PPX C","x":0.625,"y":8},{"s":"PPX C","x":0.675,"y":8},{"s":"PPX C","x":0.725,"y":8},{"s":"PPX C","x":0.775,"y":7},{"s":"PPX C","x":0.825,"y":7},{"s":"PPX C","x":0.875,"y":7},{"s":"PPX C","x":0.925,"y":7},{"s":"PPX C","x":0.975,"y":7},{"s":"PPX C","x":1.025,"y":7},{"s":"PPX C","x":1.075,"y":7},{"s":"PPX C","x":1.125,"y":7},{"s":"PPX C","x":1.175,"y":7},{"s":"PPX C","x":1.225,"y":6},{"s":"PPX C","x":1.275,"y":6},{"s":"PPX C","x":1.325,"y":6},{"s":"PPX C","x":1.375,"y":6},{"s":"PPX C","x":1.425,"y":6},{"s":"PPX C","x":1.475,"y":6},{"s":"PPX C","x":1.525,"y":6},{"s":"PPX C","x":1.575,"y":6},{"s":"PPX C","x":1.625,"y":6},{"s":"PPX C","x":1.675,"y":5},{"s":"PPX C","x":1.725,"y":5},{"s":"PPX C","x":1.775,"y":5},{"s":"PPX C","x":1.825,"y":5},{"s":"PPX C","x":1.875,"y":5},{"s":"PPX C","x":1.925,"y":5},{"s":"PPX C","x":1.975,"y":5},{"s":"PPX C","x":2.025,"y":5},{"s":"PPX C","x":2.075,"y":5},{"s":"PPX C","x":2.125,"y":4},{"s":"PPX C","x":2.175,"y":4},{"s":"PPX C","x":2.225,"y":4},{"s":"PPX C","x":2.275,"y":4},{"s":"PPX C","x":2.325,"y":4},{"s":"PPX C","x":2.375,"y":4},{"s":"PPX C","x":2.425,"y":4},{"s":"PPX C","x":2.475,"y":4},{"s":"PPX C","x":2.975,"y":3},{"s":"PPX C","x":3.025,"y":3},{"s":"PPX C","x":3.075,"y":3},{"s":"PPX C","x":3.125,"y":3},{"s":"PPX C","x":3.175,"y":3},{"s":"PPX C","x":3.225,"y":2},{"s":"PPX C","x":3.275,"y":2},{"s":"PPX C","x":3.325,"y":2},{"s":"PPX C","x":3.375,"y":2},{"s":"PPX C","x":3.425,"y":2},{"s":"PPX C","x":3.475,"y":2},
{"s":"PPX D","x":0,"y":232},{"s":"PPX D","x":0.005,"y":215},{"s":"PPX D","x":0.01,"y":192},{"s":"PPX D","x":0.015,"y":165},{"s":"PPX D","x":0.02,"y":138},{"s":"PPX D","x":0.025,"y":108},{"s":"PPX D","x":0.03,"y":80},{"s":"PPX D","x":0.035,"y":58},{"s":"PPX D","x":0.04,"y":38},{"s":"PPX D","x":0.05,"y":15},{"s":"PPX D","x":0.06,"y":3},{"s":"PPX D","x":0.07,"y":-3},{"s":"PPX D","x":0.08,"y":-4},{"s":"PPX D","x":0.09,"y":-2},{"s":"PPX D","x":0.1,"y":1},{"s":"PPX D","x":0.12,"y":6},{"s":"PPX D","x":0.14,"y":12},{"s":"PPX D","x":0.16,"y":20},{"s":"PPX D","x":0.18,"y":28},{"s":"PPX D","x":0.2,"y":36},{"s":"PPX D","x":0.215,"y":45},{"s":"PPX D","x":0.225,"y":60},{"s":"PPX D","x":0.235,"y":82},{"s":"PPX D","x":0.24,"y":100},{"s":"PPX D","x":0.245,"y":122},{"s":"PPX D","x":0.25,"y":160},{"s":"PPX D","x":0.255,"y":202},{"s":"PPX D","x":0.26,"y":239},{"s":"PPX D","x":0.265,"y":274},{"s":"PPX D","x":0.272,"y":305},{"s":"PPX D","x":0.28,"y":314},{"s":"PPX D","x":0.286,"y":290},{"s":"PPX D","x":0.29,"y":262},{"s":"PPX D","x":0.294,"y":235},{"s":"PPX D","x":0.298,"y":213},{"s":"PPX D","x":0.302,"y":185},{"s":"PPX D","x":0.306,"y":160},{"s":"PPX D","x":0.31,"y":130},{"s":"PPX D","x":0.313,"y":96},{"s":"PPX D","x":0.316,"y":68},{"s":"PPX D","x":0.32,"y":43},{"s":"PPX D","x":0.326,"y":25},{"s":"PPX D","x":0.333,"y":14},{"s":"PPX D","x":0.34,"y":9},{"s":"PPX D","x":0.35,"y":7},{"s":"PPX D","x":0.4,"y":7},{"s":"PPX D","x":0.45,"y":7},{"s":"PPX D","x":0.5,"y":7},{"s":"PPX D","x":0.55,"y":7},{"s":"PPX D","x":0.6,"y":7},{"s":"PPX D","x":0.65,"y":7},{"s":"PPX D","x":0.7,"y":7},{"s":"PPX D","x":0.75,"y":7},{"s":"PPX D","x":0.8,"y":6},{"s":"PPX D","x":0.85,"y":6},{"s":"PPX D","x":0.9,"y":6},{"s":"PPX D","x":0.95,"y":6},{"s":"PPX D","x":1,"y":6},{"s":"PPX D","x":1.05,"y":6},{"s":"PPX D","x":1.1,"y":6},{"s":"PPX D","x":1.15,"y":6},{"s":"PPX D","x":1.2,"y":6},{"s":"PPX D","x":1.25,"y":6},{"s":"PPX D","x":1.3,"y":6},{"s":"PPX D","x":1.35,"y":6},{"s":"PPX D","x":1.4,"y":6},{"s":"PPX D","x":1.45,"y":6},{"s":"PPX D","x":1.5,"y":6},{"s":"PPX D","x":1.55,"y":5},{"s":"PPX D","x":1.6,"y":5},{"s":"PPX D","x":1.65,"y":5},{"s":"PPX D","x":1.7,"y":5},{"s":"PPX D","x":1.75,"y":5},{"s":"PPX D","x":1.8,"y":5},{"s":"PPX D","x":1.85,"y":5},{"s":"PPX D","x":1.9,"y":5},{"s":"PPX D","x":1.95,"y":5},{"s":"PPX D","x":2,"y":5},{"s":"PPX D","x":2.05,"y":5},{"s":"PPX D","x":2.1,"y":5},{"s":"PPX D","x":2.15,"y":5},{"s":"PPX D","x":2.2,"y":5},{"s":"PPX D","x":2.25,"y":5},{"s":"PPX D","x":2.3,"y":5},{"s":"PPX D","x":2.35,"y":5},{"s":"PPX D","x":2.4,"y":5},{"s":"PPX D","x":2.45,"y":5},{"s":"PPX D","x":2.5,"y":6},{"s":"PPX D","x":2.513,"y":10},{"s":"PPX D","x":2.533,"y":19},{"s":"PPX D","x":2.553,"y":38},{"s":"PPX D","x":2.563,"y":51},{"s":"PPX D","x":2.573,"y":68},{"s":"PPX D","x":2.583,"y":86},{"s":"PPX D","x":2.593,"y":104},{"s":"PPX D","x":2.603,"y":121},{"s":"PPX D","x":2.613,"y":133},{"s":"PPX D","x":2.623,"y":141},{"s":"PPX D","x":2.633,"y":144},{"s":"PPX D","x":2.643,"y":141},{"s":"PPX D","x":2.653,"y":133},{"s":"PPX D","x":2.663,"y":119},{"s":"PPX D","x":2.673,"y":102},{"s":"PPX D","x":2.683,"y":84},{"s":"PPX D","x":2.693,"y":66},{"s":"PPX D","x":2.703,"y":49},{"s":"PPX D","x":2.713,"y":36},{"s":"PPX D","x":2.733,"y":18},{"s":"PPX D","x":2.753,"y":10},{"s":"PPX D","x":2.775,"y":11},{"s":"PPX D","x":2.8,"y":15},{"s":"PPX D","x":2.82,"y":17},{"s":"PPX D","x":2.84,"y":15},{"s":"PPX D","x":2.87,"y":9},{"s":"PPX D","x":2.9,"y":6},{"s":"PPX D","x":2.95,"y":5},{"s":"PPX D","x":3,"y":5},{"s":"PPX D","x":3.05,"y":5},{"s":"PPX D","x":3.1,"y":5},{"s":"PPX D","x":3.15,"y":4},{"s":"PPX D","x":3.2,"y":4},{"s":"PPX D","x":3.25,"y":4},{"s":"PPX D","x":3.3,"y":4},{"s":"PPX D","x":3.35,"y":4},{"s":"PPX D","x":3.4,"y":4},{"s":"PPX D","x":3.45,"y":4},{"s":"PPX D","x":3.5,"y":4},
{"s":"PPX D","x":0.375,"y":7},{"s":"PPX D","x":0.425,"y":7},{"s":"PPX D","x":0.475,"y":7},{"s":"PPX D","x":0.525,"y":7},{"s":"PPX D","x":0.575,"y":7},{"s":"PPX D","x":0.625,"y":7},{"s":"PPX D","x":0.675,"y":7},{"s":"PPX D","x":0.725,"y":7},{"s":"PPX D","x":0.775,"y":7},{"s":"PPX D","x":0.825,"y":6},{"s":"PPX D","x":0.875,"y":6},{"s":"PPX D","x":0.925,"y":6},{"s":"PPX D","x":0.975,"y":6},{"s":"PPX D","x":1.025,"y":6},{"s":"PPX D","x":1.075,"y":6},{"s":"PPX D","x":1.125,"y":6},{"s":"PPX D","x":1.175,"y":6},{"s":"PPX D","x":1.225,"y":6},{"s":"PPX D","x":1.275,"y":6},{"s":"PPX D","x":1.325,"y":6},{"s":"PPX D","x":1.375,"y":6},{"s":"PPX D","x":1.425,"y":6},{"s":"PPX D","x":1.475,"y":6},{"s":"PPX D","x":1.525,"y":6},{"s":"PPX D","x":1.575,"y":5},{"s":"PPX D","x":1.625,"y":5},{"s":"PPX D","x":1.675,"y":5},{"s":"PPX D","x":1.725,"y":5},{"s":"PPX D","x":1.775,"y":5},{"s":"PPX D","x":1.825,"y":5},{"s":"PPX D","x":1.875,"y":5},{"s":"PPX D","x":1.925,"y":5},{"s":"PPX D","x":1.975,"y":5},{"s":"PPX D","x":2.025,"y":5},{"s":"PPX D","x":2.075,"y":5},{"s":"PPX D","x":2.125,"y":5},{"s":"PPX D","x":2.175,"y":5},{"s":"PPX D","x":2.225,"y":5},{"s":"PPX D","x":2.275,"y":5},{"s":"PPX D","x":2.325,"y":5},{"s":"PPX D","x":2.375,"y":5},{"s":"PPX D","x":2.425,"y":5},{"s":"PPX D","x":2.475,"y":5},{"s":"PPX D","x":2.925,"y":5},{"s":"PPX D","x":2.975,"y":5},{"s":"PPX D","x":3.025,"y":5},{"s":"PPX D","x":3.075,"y":5},{"s":"PPX D","x":3.125,"y":4},{"s":"PPX D","x":3.175,"y":4},{"s":"PPX D","x":3.225,"y":4},{"s":"PPX D","x":3.275,"y":4},{"s":"PPX D","x":3.325,"y":4},{"s":"PPX D","x":3.375,"y":4},{"s":"PPX D","x":3.425,"y":4},{"s":"PPX D","x":3.475,"y":4}
],
"edxBig": [{"t":"C","x":0.803,"y":767},{"t":"Cl","x":2.363,"y":355}],
"edxSub": [{"t":"Kα1","x":0.95,"y":741},{"t":"Kα1","x":2.564,"y":330}],
"edxLab": [{"t":"PPX N","x":0.803,"y":679},{"t":"PPX C","x":0.925,"y":548},{"t":"PPX D","x":1.169,"y":301.5}],
"edxB": [{"t":"(b)","x":3.44,"y":733}],
"edxArrC": [
{"x":0.749,"y":746,"x2":0.305,"y2":723,"a":262},{"x":2.622,"y":282,"x2":2.622,"y2":168,"a":180}
],
"edxArrS": [
{"s":"PPX N","x":0.749,"y":674.5,"x2":0.3,"y2":674.5,"a":270},{"s":"PPX C","x":0.884,"y":532.5,"x2":0.32,"y2":532.5,"a":270},{"s":"PPX D","x":1.125,"y":286,"x2":0.335,"y2":286,"a":270}
]
},
"spacing": 57,
"vconcat": [
{
  "width": 489, "height": 271,
  "view": {"stroke": null},
  "resolve": {"axis": {"x": "independent", "y": "independent"}},
  "layer": [
    {
      "data": {"name": "xrd"},
      "mark": {"type": "line", "strokeWidth": 2.8},
      "encoding": {
        "x": {"field": "x", "type": "quantitative", "scale": {"domain": [3.654, 35], "nice": false, "zero": false},
          "axis": {"orient": "bottom", "values": [5,7.5,10,12.5,15,17.5,20,22.5,25,27.5,30,32.5,35], "format": "~g", "labelExpr": "datum.value % 5 === 0 ? datum.label : ''", "tickSize": {"condition": {"test": "datum.value % 5 === 0", "value": 6}, "value": 4}, "domain": false, "title": "2θ (°)", "titleFont": "DejaVu Serif", "titleFontSize": 19, "titleFontWeight": "bold", "titleX": 255, "titlePadding": 3, "labelFont": "DejaVu Serif", "labelFontSize": 16, "labelFontWeight": "bold", "labelPadding": 5}},
        "y": {"field": "y", "type": "quantitative", "scale": {"domain": [63, 1012], "nice": false, "zero": false},
          "axis": {"orient": "left", "offset": -21, "values": [100,200,300,400,500,600,700,800,900,1000], "format": "d", "labelExpr": "datum.value % 200 === 0 ? datum.label : ''", "tickSize": 6, "title": "Intensité (u.a)", "titleFont": "Liberation Serif", "titleFontSize": 22, "titleFontWeight": "normal", "titleX": -74, "titleY": 143, "titleBaseline": "middle", "titleAlign": "center", "titleAngle": 270, "labelFont": "DejaVu Serif", "labelFontSize": 16, "labelFontWeight": "bold", "labelPadding": 4}},
        "color": {"field": "s", "type": "nominal",
          "scale": {"domain": ["PPX N","PPX C","PPX D","VT-4","AF4"], "range": ["#000000","#ff0000","#0000ff","#008080","#ff00ff"]},
          "legend": {"orient": "none", "legendX": 372.7, "legendY": 70.3, "title": null, "symbolType": "M-1.8,0H1.8", "symbolSize": 420, "symbolStrokeWidth": 2.5, "labelFont": "DejaVu Serif", "labelFontSize": 20, "labelFontWeight": "bold", "labelColor": "#000000", "labelOffset": 16, "rowPadding": 4.8, "padding": 0, "labelLimit": 300}}
      }
    },
    {
      "data": {"values": [{}]},
      "mark": {"type": "rule", "strokeWidth": 1.5, "color": "#000000"},
      "encoding": {
        "x": {"datum": 5, "type": "quantitative", "axis": null},
        "x2": {"datum": 35},
        "y": {"datum": 1012, "type": "quantitative", "axis": {"orient": "right", "values": [155,251,346,441,537,632,727,823,918], "labels": false, "tickSize": -5, "title": null, "domain": true}}
      }
    },
    {
      "data": {"values": [{}]},
      "mark": {"type": "rule", "strokeWidth": 1.5, "color": "#000000"},
      "encoding": {
        "x": {"datum": 5, "type": "quantitative", "axis": null},
        "x2": {"datum": 35},
        "y": {"datum": 63, "type": "quantitative", "axis": null}
      }
    },
    {
      "data": {"name": "xrdArr"},
      "mark": {"type": "rule", "color": "#80ffff", "strokeWidth": 2.5},
      "encoding": {
        "x": {"field": "x", "type": "quantitative", "axis": null},
        "y": {"field": "y", "type": "quantitative", "axis": null},
        "x2": {"field": "x2"},
        "y2": {"field": "y2"}
      }
    },
    {
      "data": {"name": "xrdArr"},
      "mark": {"type": "point", "shape": "triangle-up", "filled": true, "color": "#80ffff", "size": 80, "opacity": 1},
      "encoding": {
        "x": {"field": "x2", "type": "quantitative", "axis": null},
        "y": {"field": "y2", "type": "quantitative", "axis": null},
        "angle": {"field": "a", "type": "quantitative", "scale": null}
      }
    },
    {
      "data": {"name": "xrdLab"},
      "mark": {"type": "text", "font": "DejaVu Serif", "fontWeight": "bold", "fontSize": 20, "color": "#000000", "align": "center", "baseline": "middle"},
      "encoding": {
        "x": {"field": "x", "type": "quantitative", "axis": null},
        "y": {"field": "y", "type": "quantitative", "axis": null},
        "text": {"field": "t"}
      }
    }
  ]
},
{
  "width": 479, "height": 318,
  "resolve": {"axis": {"x": "independent", "y": "independent"}},
  "layer": [
    {
      "data": {"name": "edx"},
      "transform": [{"filter": "datum.s === 'PPX N'"}],
      "mark": {"type": "line", "strokeWidth": 2, "strokeDash": [6, 3], "color": "#000000"},
      "encoding": {
        "x": {"field": "x", "type": "quantitative", "scale": {"domain": [0, 3.5], "nice": false, "zero": false},
          "axis": {"orient": "bottom", "values": [0,0.25,0.5,0.75,1,1.25,1.5,1.75,2,2.25,2.5,2.75,3,3.25,3.5], "labelExpr": "round(datum.value*4) % 2 === 0 ? replace(format(datum.value, '.1f'), '.', ',') : ''", "tickSize": {"condition": {"test": "round(datum.value*4) % 2 === 0", "value": 6}, "value": 3}, "title": "Energie (Kev)", "titleFont": "DejaVu Serif", "titleFontSize": 20, "titleFontWeight": "bold", "titlePadding": 9, "labelFont": "DejaVu Serif", "labelFontSize": 19, "labelFontWeight": "bold", "labelPadding": 7}},
        "y": {"field": "y", "type": "quantitative", "scale": {"domain": [-50, 797], "nice": false, "zero": false},
          "axis": {"orient": "left", "values": [0,100,200,300,400,500,600,700], "labels": false, "tickSize": -6, "title": "Intensité (u.a)", "titleFont": "Liberation Serif", "titleFontSize": 24, "titleFontWeight": "bold", "titleX": -36.4, "titleY": 153.5, "titleBaseline": "middle", "titleAlign": "center", "titleAngle": 270}}
      }
    },
    {
      "data": {"name": "edx"},
      "transform": [{"filter": "datum.s === 'PPX N'"}],
      "mark": {"type": "point", "shape": "triangle-up", "filled": true, "color": "#000000", "size": 95, "opacity": 1},
      "encoding": {
        "x": {"field": "x", "type": "quantitative", "axis": {"orient": "top", "values": [0.022,0.369,0.717,1.064,1.412,1.759,2.107,2.454,2.802,3.149], "labels": false, "tickSize": -5, "title": null, "domain": false}},
        "y": {"field": "y", "type": "quantitative", "axis": {"orient": "right", "values": [35,120,206,291,376,462,547,633,719], "labels": false, "tickSize": -6, "title": null, "domain": false}}
      }
    },
    {
      "data": {"name": "edx"},
      "transform": [{"filter": "datum.s === 'PPX C'"}],
      "mark": {"type": "line", "strokeWidth": 2, "color": "#ff0000"},
      "encoding": {
        "x": {"field": "x", "type": "quantitative", "axis": null},
        "y": {"field": "y", "type": "quantitative", "axis": null}
      }
    },
    {
      "data": {"name": "edx"},
      "transform": [{"filter": "datum.s === 'PPX C'"}],
      "mark": {"type": "point", "shape": "circle", "filled": false, "color": "#ff0000", "strokeWidth": 1.6, "size": 135, "opacity": 1},
      "encoding": {
        "x": {"field": "x", "type": "quantitative", "axis": null},
        "y": {"field": "y", "type": "quantitative", "axis": null}
      }
    },
    {
      "data": {"name": "edx"},
      "transform": [{"filter": "datum.s === 'PPX D'"}],
      "mark": {"type": "line", "strokeWidth": 2, "strokeDash": [5, 3], "color": "#0000ff"},
      "encoding": {
        "x": {"field": "x", "type": "quantitative", "axis": null},
        "y": {"field": "y", "type": "quantitative", "axis": null}
      }
    },
    {
      "data": {"name": "edx"},
      "transform": [{"filter": "datum.s === 'PPX D'"}],
      "mark": {"type": "point", "shape": "circle", "filled": true, "color": "#0000ff", "size": 70, "opacity": 1},
      "encoding": {
        "x": {"field": "x", "type": "quantitative", "axis": null},
        "y": {"field": "y", "type": "quantitative", "axis": null}
      }
    },
    {
      "data": {"values": []},
      "mark": {"type": "point", "filled": true, "opacity": 1, "strokeWidth": 2},
      "encoding": {
        "x": {"field": "x", "type": "quantitative", "axis": null},
        "y": {"field": "y", "type": "quantitative", "axis": null},
        "shape": {"field": "s", "type": "nominal",
          "scale": {"domain": ["PPX N","PPX C","PPX D"], "range": ["M-1.8,0H-0.55M0.55,0H1.8M0,-0.5L0.58,0.45L-0.58,0.45Z", "M-1.8,0H-0.55M0.55,0H1.8M0.5,0A0.5,0.5 0 1,1 -0.5,0A0.5,0.5 0 1,1 0.5,0Z", "M-1.8,0H-1.2M-0.95,0H-0.35M0.35,0H0.95M1.2,0H1.8M0.27,0A0.27,0.27 0 1,1 -0.27,0A0.27,0.27 0 1,1 0.27,0Z"]},
          "legend": {"orient": "none", "legendX": 355.2, "legendY": 444.1, "title": null, "symbolSize": 420, "symbolStrokeWidth": 2.5, "labelFont": "DejaVu Serif", "labelFontSize": 20, "labelFontWeight": "bold", "labelColor": "#000000", "labelOffset": 16, "rowPadding": 9.5, "padding": 0, "labelLimit": 300}},
        "fill": {"field": "s", "type": "nominal",
          "scale": {"domain": ["PPX N","PPX C","PPX D"], "range": ["#000000","#ffffff","#0000ff"]},
          "legend": {"orient": "none", "legendX": 355.2, "legendY": 444.1, "title": null, "symbolSize": 420, "symbolStrokeWidth": 2.5, "labelFont": "DejaVu Serif", "labelFontSize": 20, "labelFontWeight": "bold", "labelColor": "#000000", "labelOffset": 16, "rowPadding": 9.5, "padding": 0, "labelLimit": 300}},
        "stroke": {"field": "s", "type": "nominal",
          "scale": {"domain": ["PPX N","PPX C","PPX D"], "range": ["#000000","#ff0000","#0000ff"]},
          "legend": {"orient": "none", "legendX": 355.2, "legendY": 444.1, "title": null, "symbolSize": 420, "symbolStrokeWidth": 2.5, "labelFont": "DejaVu Serif", "labelFontSize": 20, "labelFontWeight": "bold", "labelColor": "#000000", "labelOffset": 16, "rowPadding": 9.5, "padding": 0, "labelLimit": 300}}
      }
    },
    {
      "data": {"name": "edxArrC"},
      "mark": {"type": "rule", "strokeWidth": 2.5, "color": "#80ffff"},
      "encoding": {
        "x": {"field": "x", "type": "quantitative", "axis": null},
        "y": {"field": "y", "type": "quantitative", "axis": null},
        "x2": {"field": "x2"},
        "y2": {"field": "y2"}
      }
    },
    {
      "data": {"name": "edxArrC"},
      "mark": {"type": "point", "shape": "triangle-up", "filled": true, "size": 80, "opacity": 1, "color": "#80ffff"},
      "encoding": {
        "x": {"field": "x2", "type": "quantitative", "axis": null},
        "y": {"field": "y2", "type": "quantitative", "axis": null},
        "angle": {"field": "a", "type": "quantitative", "scale": null}
      }
    },
    {
      "data": {"name": "edxArrS"},
      "mark": {"type": "rule", "strokeWidth": 2.5},
      "encoding": {
        "x": {"field": "x", "type": "quantitative", "axis": null},
        "y": {"field": "y", "type": "quantitative", "axis": null},
        "x2": {"field": "x2"},
        "y2": {"field": "y2"},
        "color": {"field": "s", "type": "nominal", "scale": {"domain": ["PPX N","PPX C","PPX D"], "range": ["#000000","#ff0000","#0000ff"]}, "legend": null}
      }
    },
    {
      "data": {"name": "edxArrS"},
      "mark": {"type": "point", "shape": "triangle-up", "filled": true, "size": 80, "opacity": 1},
      "encoding": {
        "x": {"field": "x2", "type": "quantitative", "axis": null},
        "y": {"field": "y2", "type": "quantitative", "axis": null},
        "angle": {"field": "a", "type": "quantitative", "scale": null},
        "color": {"field": "s", "type": "nominal", "legend": null}
      }
    },
    {
      "data": {"name": "edxBig"},
      "mark": {"type": "text", "font": "DejaVu Serif", "fontWeight": "bold", "fontSize": 23, "color": "#000000", "align": "left", "baseline": "middle"},
      "encoding": {
        "x": {"field": "x", "type": "quantitative", "axis": null},
        "y": {"field": "y", "type": "quantitative", "axis": null},
        "text": {"field": "t"}
      }
    },
    {
      "data": {"name": "edxSub"},
      "mark": {"type": "text", "font": "DejaVu Serif", "fontWeight": "bold", "fontSize": 16, "color": "#0e8c8c", "align": "left", "baseline": "middle"},
      "encoding": {
        "x": {"field": "x", "type": "quantitative", "axis": null},
        "y": {"field": "y", "type": "quantitative", "axis": null},
        "text": {"field": "t"}
      }
    },
    {
      "data": {"name": "edxLab"},
      "mark": {"type": "text", "font": "DejaVu Serif", "fontWeight": "bold", "fontSize": 20, "color": "#000000", "align": "left", "baseline": "middle"},
      "encoding": {
        "x": {"field": "x", "type": "quantitative", "axis": null},
        "y": {"field": "y", "type": "quantitative", "axis": null},
        "text": {"field": "t"}
      }
    },
    {
      "data": {"name": "edxB"},
      "mark": {"type": "text", "font": "DejaVu Serif", "fontWeight": "bold", "fontSize": 20, "color": "#000000", "align": "right", "baseline": "middle"},
      "encoding": {
        "x": {"field": "x", "type": "quantitative", "axis": null},
        "y": {"field": "y", "type": "quantitative", "axis": null},
        "text": {"field": "t"}
      }
    }
  ]
}
]
}
